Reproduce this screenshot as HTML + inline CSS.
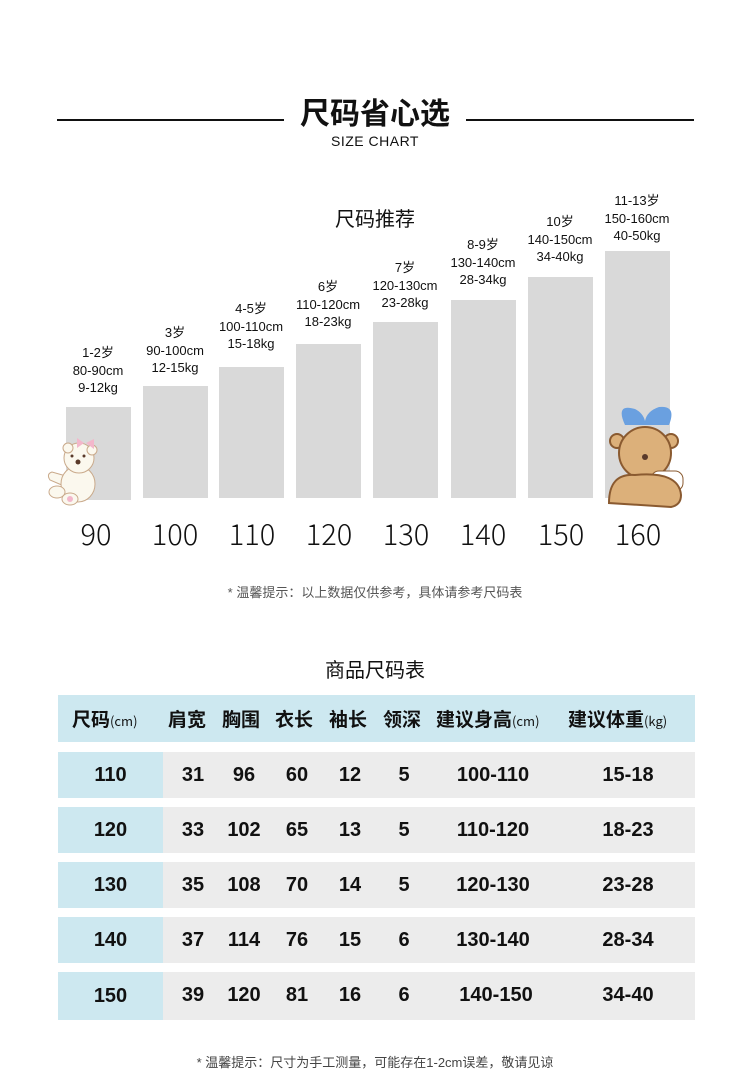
<!DOCTYPE html>
<html><head><meta charset="utf-8"><style>
*{margin:0;padding:0;box-sizing:border-box}
body{width:750px;height:1086px;background:#fff;position:relative;overflow:hidden;font-family:"Liberation Sans","Noto Sans CJK SC",sans-serif;color:#111}
.a{position:absolute}
.bar{position:absolute;background:#d9d9d9;width:65px}
.lbl{position:absolute;width:100px;text-align:center;font-size:13px;line-height:17.5px;color:#111}
.num{position:absolute;top:512px;width:90px;text-align:center;font-size:29px;font-family:"Noto Sans CJK SC",sans-serif;font-weight:300;color:#111}
.row{position:absolute;left:58px;width:637px;height:46px;background:#ececec;font-weight:bold;font-size:20px}
.row .c{position:absolute;top:0;line-height:46px;text-align:center}
.row .f{left:0;width:105px;background:#cde8f0;height:46px}
</style></head><body>
<div class="a" style="left:57px;top:119px;width:227px;height:2px;background:#111"></div>
<div class="a" style="left:466px;top:119px;width:228px;height:2px;background:#111"></div>
<div class="a" style="left:285px;top:91px;width:180px;text-align:center;font-size:30px;font-weight:bold;font-family:'Noto Sans CJK SC',sans-serif;line-height:40px">尺码省心选</div>
<div class="a" style="left:285px;top:133px;width:180px;text-align:center;font-size:14px;letter-spacing:0.5px">SIZE CHART</div>
<div class="a" style="left:275px;top:203px;width:200px;text-align:center;font-size:20px;font-family:'Noto Sans CJK SC',sans-serif">尺码推荐</div>

<div class="bar" style="left:66px;top:407px;height:93px"></div>
<div class="bar" style="left:143px;top:386px;height:112px"></div>
<div class="bar" style="left:219px;top:367px;height:131px"></div>
<div class="bar" style="left:296px;top:344px;height:154px"></div>
<div class="bar" style="left:373px;top:322px;height:176px"></div>
<div class="bar" style="left:451px;top:300px;height:198px"></div>
<div class="bar" style="left:528px;top:277px;height:221px"></div>
<div class="bar" style="left:605px;top:251px;height:247px"></div>

<div class="lbl" style="left:48px;top:344px">1-2岁<br>80-90cm<br>9-12kg</div>
<div class="lbl" style="left:125px;top:324px">3岁<br>90-100cm<br>12-15kg</div>
<div class="lbl" style="left:201px;top:300px">4-5岁<br>100-110cm<br>15-18kg</div>
<div class="lbl" style="left:278px;top:278px">6岁<br>110-120cm<br>18-23kg</div>
<div class="lbl" style="left:355px;top:259px">7岁<br>120-130cm<br>23-28kg</div>
<div class="lbl" style="left:433px;top:236px">8-9岁<br>130-140cm<br>28-34kg</div>
<div class="lbl" style="left:510px;top:213px">10岁<br>140-150cm<br>34-40kg</div>
<div class="lbl" style="left:587px;top:192px">11-13岁<br>150-160cm<br>40-50kg</div>

<div class="num" style="left:51px">90</div>
<div class="num" style="left:130px">100</div>
<div class="num" style="left:207px">110</div>
<div class="num" style="left:284px">120</div>
<div class="num" style="left:361px">130</div>
<div class="num" style="left:438px">140</div>
<div class="num" style="left:516px">150</div>
<div class="num" style="left:593px">160</div>

<svg class="a" style="left:44px;top:436px" width="60" height="70"><path d="M22 40 l-14 -4 q-6 2 -2 8 l14 6z" fill="#fbf8ee" stroke="#c9a98a"/><ellipse cx="34" cy="48" rx="17" ry="18" fill="#fbf8ee" stroke="#c9a98a"/><circle cx="35" cy="22" r="15" fill="#fbf8ee" stroke="#c9a98a"/><circle cx="24" cy="12" r="5" fill="#fbf8ee" stroke="#c9a98a"/><circle cx="48" cy="14" r="5" fill="#fbf8ee" stroke="#c9a98a"/><path d="M40 7 l-7 -5 v10z M42 7 l8 -4 v10z" fill="#f3b7cb"/><circle cx="34" cy="26" r="2.5" fill="#5a3a2a"/><circle cx="28" cy="20" r="1.5" fill="#5a3a2a"/><circle cx="40" cy="20" r="1.5" fill="#5a3a2a"/><ellipse cx="13" cy="56" rx="8" ry="6" fill="#fbf8ee" stroke="#c9a98a"/><ellipse cx="26" cy="63" rx="8" ry="6" fill="#fbf8ee" stroke="#c9a98a"/><circle cx="26" cy="63" r="3" fill="#f3b7cb"/></svg>
<svg class="a" style="left:605px;top:403px" width="82" height="108"><path d="M20 22 q-10 -22 10 -16 q8 4 10 12 q2 -10 14 -14 q18 -2 10 18 z" fill="#6aa0e0"/><circle cx="12" cy="38" r="7" fill="#dcb07a" stroke="#8a5a30" stroke-width="2"/><circle cx="66" cy="38" r="7" fill="#dcb07a" stroke="#8a5a30" stroke-width="2"/><ellipse cx="40" cy="50" rx="26" ry="26" fill="#dcb07a" stroke="#8a5a30" stroke-width="2"/><rect x="46" y="68" width="32" height="20" rx="8" fill="#fff" stroke="#8a5a30"/><path d="M4 100 q0 -30 26 -28 q44 -4 46 20 q0 10 -10 12 z" fill="#dcb07a" stroke="#8a5a30" stroke-width="2"/><circle cx="40" cy="54" r="3" fill="#5a3a2a"/></svg>

<div class="a" style="left:0;top:582px;width:750px;text-align:center;font-size:13px;color:#555">* 温馨提示：以上数据仅供参考，具体请参考尺码表</div>
<div class="a" style="left:275px;top:654px;width:200px;text-align:center;font-size:20px;font-family:'Noto Sans CJK SC',sans-serif">商品尺码表</div>

<div class="a" style="left:58px;top:695px;width:637px;height:47px;background:#cde8f0;font-weight:bold;font-size:19px;line-height:47px;font-family:'Noto Sans CJK SC',sans-serif">
<span class="a" style="left:14px">尺码<span style="font-size:13px;font-weight:normal">(cm)</span></span>
<span class="a" style="left:110px">肩宽</span><span class="a" style="left:164px">胸围</span><span class="a" style="left:217px">衣长</span><span class="a" style="left:271px">袖长</span><span class="a" style="left:325px">领深</span>
<span class="a" style="left:378px">建议身高<span style="font-size:13px;font-weight:normal">(cm)</span></span>
<span class="a" style="left:510px">建议体重<span style="font-size:13px;font-weight:normal">(kg)</span></span></div>

<div class="row" style="top:752px"><div class="c f">110</div><div class="c" style="left:115px;width:40px">31</div><div class="c" style="left:166px;width:40px">96</div><div class="c" style="left:219px;width:40px">60</div><div class="c" style="left:272px;width:40px">12</div><div class="c" style="left:326px;width:40px">5</div><div class="c" style="left:375px;width:120px">100-110</div><div class="c" style="left:520px;width:100px">15-18</div></div>
<div class="row" style="top:807px"><div class="c f">120</div><div class="c" style="left:115px;width:40px">33</div><div class="c" style="left:166px;width:40px">102</div><div class="c" style="left:219px;width:40px">65</div><div class="c" style="left:272px;width:40px">13</div><div class="c" style="left:326px;width:40px">5</div><div class="c" style="left:375px;width:120px">110-120</div><div class="c" style="left:520px;width:100px">18-23</div></div>
<div class="row" style="top:862px"><div class="c f">130</div><div class="c" style="left:115px;width:40px">35</div><div class="c" style="left:166px;width:40px">108</div><div class="c" style="left:219px;width:40px">70</div><div class="c" style="left:272px;width:40px">14</div><div class="c" style="left:326px;width:40px">5</div><div class="c" style="left:375px;width:120px">120-130</div><div class="c" style="left:520px;width:100px">23-28</div></div>
<div class="row" style="top:917px"><div class="c f">140</div><div class="c" style="left:115px;width:40px">37</div><div class="c" style="left:166px;width:40px">114</div><div class="c" style="left:219px;width:40px">76</div><div class="c" style="left:272px;width:40px">15</div><div class="c" style="left:326px;width:40px">6</div><div class="c" style="left:375px;width:120px">130-140</div><div class="c" style="left:520px;width:100px">28-34</div></div>
<div class="row" style="top:972px;height:48px"><div class="c f" style="height:48px;line-height:48px">150</div><div class="c" style="left:115px;width:40px">39</div><div class="c" style="left:166px;width:40px">120</div><div class="c" style="left:219px;width:40px">81</div><div class="c" style="left:272px;width:40px">16</div><div class="c" style="left:326px;width:40px">6</div><div class="c" style="left:378px;width:120px">140-150</div><div class="c" style="left:520px;width:100px">34-40</div></div>

<div class="a" style="left:0;top:1052px;width:750px;text-align:center;font-size:13px;color:#444">* 温馨提示：尺寸为手工测量，可能存在1-2cm误差，敬请见谅</div>
</body></html>
